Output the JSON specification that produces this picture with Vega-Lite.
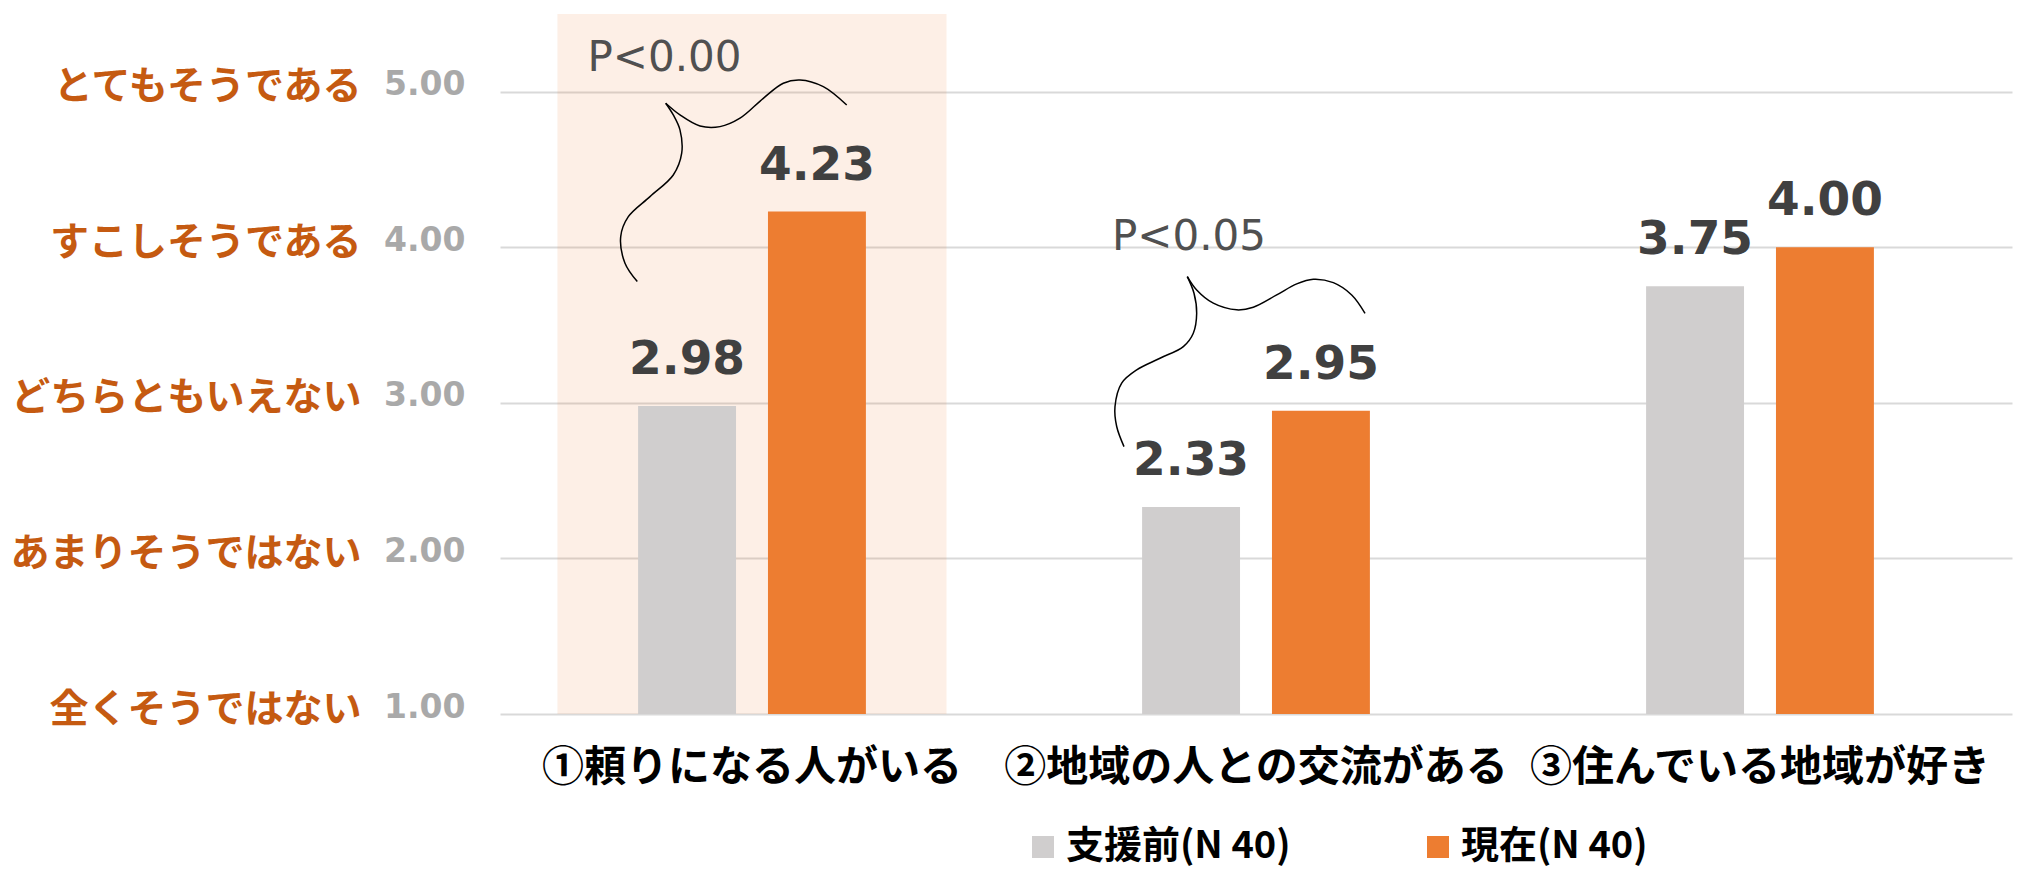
{
  "$schema": "https://vega.github.io/schema/vega-lite/v6.json",
  "width": 1512,
  "height": 700,
  "autosize": {"type": "none"},
  "padding": {"left": 500, "top": 14, "right": 12, "bottom": 158},
  "background": "white",
  "config": {"view": {"stroke": null}},
  "datasets": {
    "bars": [
      {"item": "①頼りになる人がいる", "period": "支援前(N 40)", "value": 2.98},
      {"item": "①頼りになる人がいる", "period": "現在(N 40)", "value": 4.23},
      {"item": "②地域の人との交流がある", "period": "支援前(N 40)", "value": 2.33},
      {"item": "②地域の人との交流がある", "period": "現在(N 40)", "value": 2.95},
      {"item": "③住んでいる地域が好き", "period": "支援前(N 40)", "value": 3.75},
      {"item": "③住んでいる地域が好き", "period": "現在(N 40)", "value": 4.00}
    ],
    "brace": [
      {"arm": "a1", "i": 1, "bx": 0.2724, "by": 3.780},
      {"arm": "a1", "i": 2, "bx": 0.2480, "by": 3.898},
      {"arm": "a1", "i": 3, "bx": 0.2395, "by": 4.069},
      {"arm": "a1", "i": 4, "bx": 0.2546, "by": 4.197},
      {"arm": "a1", "i": 5, "bx": 0.2976, "by": 4.326},
      {"arm": "a1", "i": 6, "bx": 0.3438, "by": 4.465},
      {"arm": "a1", "i": 7, "bx": 0.3605, "by": 4.605},
      {"arm": "a1", "i": 8, "bx": 0.3571, "by": 4.755},
      {"arm": "a1", "i": 9, "bx": 0.3438, "by": 4.851},
      {"arm": "a1", "i": 10, "bx": 0.3288, "by": 4.926},
      {"arm": "a2", "i": 1, "bx": 0.3288, "by": 4.926},
      {"arm": "a2", "i": 2, "bx": 0.3571, "by": 4.851},
      {"arm": "a2", "i": 3, "bx": 0.3968, "by": 4.780},
      {"arm": "a2", "i": 4, "bx": 0.4365, "by": 4.776},
      {"arm": "a2", "i": 5, "bx": 0.4762, "by": 4.830},
      {"arm": "a2", "i": 6, "bx": 0.5224, "by": 4.958},
      {"arm": "a2", "i": 7, "bx": 0.5621, "by": 5.055},
      {"arm": "a2", "i": 8, "bx": 0.5952, "by": 5.076},
      {"arm": "a2", "i": 9, "bx": 0.6415, "by": 5.033},
      {"arm": "a2", "i": 10, "bx": 0.6879, "by": 4.915},
      {"arm": "b1", "i": 1, "bx": 1.2381, "by": 2.719},
      {"arm": "b1", "i": 2, "bx": 1.2236, "by": 2.848},
      {"arm": "b1", "i": 3, "bx": 1.2202, "by": 2.976},
      {"arm": "b1", "i": 4, "bx": 1.2335, "by": 3.127},
      {"arm": "b1", "i": 5, "bx": 1.2633, "by": 3.212},
      {"arm": "b1", "i": 6, "bx": 1.3095, "by": 3.287},
      {"arm": "b1", "i": 7, "bx": 1.3558, "by": 3.362},
      {"arm": "b1", "i": 8, "bx": 1.3756, "by": 3.448},
      {"arm": "b1", "i": 9, "bx": 1.3823, "by": 3.576},
      {"arm": "b1", "i": 10, "bx": 1.3770, "by": 3.705},
      {"arm": "b1", "i": 11, "bx": 1.3637, "by": 3.812},
      {"arm": "b2", "i": 1, "bx": 1.3637, "by": 3.812},
      {"arm": "b2", "i": 2, "bx": 1.3823, "by": 3.726},
      {"arm": "b2", "i": 3, "bx": 1.4153, "by": 3.641},
      {"arm": "b2", "i": 4, "bx": 1.4617, "by": 3.598},
      {"arm": "b2", "i": 5, "bx": 1.4946, "by": 3.615},
      {"arm": "b2", "i": 6, "bx": 1.5411, "by": 3.694},
      {"arm": "b2", "i": 7, "bx": 1.5808, "by": 3.765},
      {"arm": "b2", "i": 8, "bx": 1.6137, "by": 3.795},
      {"arm": "b2", "i": 9, "bx": 1.6534, "by": 3.773},
      {"arm": "b2", "i": 10, "bx": 1.6899, "by": 3.694},
      {"arm": "b2", "i": 11, "bx": 1.7163, "by": 3.576}
    ],
    "ptext": [
      {"label": "P<0.00", "bx": 0.3264, "by": 5.134},
      {"label": "P<0.05", "bx": 1.3671, "by": 3.983}
    ]
  },
  "layer": [
    {
      "data": {"values": [{}]},
      "mark": {"type": "bar", "color": "#ED7D31", "opacity": 0.12, "width": {"band": 1.708}},
      "encoding": {
        "x": {"datum": "①頼りになる人がいる", "type": "nominal", "axis": null,
              "scale": {"domain": ["①頼りになる人がいる", "②地域の人との交流がある", "③住んでいる地域が好き"], "paddingInner": 0.548, "paddingOuter": 0.274}},
        "y": {"datum": 1, "type": "quantitative", "axis": null,
              "scale": {"domain": [1, 5.5], "nice": false, "zero": false}},
        "y2": {"datum": 5.5}
      }
    },
    {
      "data": {"name": "bars"},
      "mark": {"type": "bar"},
      "encoding": {
        "x": {"field": "item", "type": "nominal",
              "scale": {"domain": ["①頼りになる人がいる", "②地域の人との交流がある", "③住んでいる地域が好き"], "paddingInner": 0.548, "paddingOuter": 0.274},
              "axis": {"title": null, "orient": "bottom", "domain": false, "ticks": false, "grid": false,
                       "labelFont": "Noto Sans CJK JP", "labelFontWeight": "bold", "labelFontSize": 42,
                       "labelColor": "#000000", "labelPadding": 33, "labelAngle": 0, "labelLimit": 0,
                       "labelOverlap": false, "labelBound": false}},
        "xOffset": {"field": "period", "type": "nominal",
                    "scale": {"domain": ["支援前(N 40)", "現在(N 40)"], "paddingInner": 0.246, "paddingOuter": 0}},
        "y": {"field": "value", "type": "quantitative",
              "scale": {"domain": [1, 5.5], "nice": false, "zero": false},
              "axis": {"title": null, "orient": "left", "values": [1, 2, 3, 4, 5], "format": ".2f",
                       "domain": false, "ticks": false, "grid": true, "gridColor": "#D9D9D9", "gridWidth": 2,
                       "labelFont": "DejaVu Sans", "labelFontWeight": "bold", "labelFontSize": 33, "labelColor": "#A9A9A9",
                       "labelPadding": 35, "labelOffset": -7}},
        "y2": {"datum": 1},
        "color": {"field": "period", "type": "nominal",
                  "scale": {"domain": ["支援前(N 40)", "現在(N 40)"], "range": ["#D0CECE", "#ED7D31"]},
                  "legend": {"title": null, "orient": "none", "legendX": 524, "legendY": 814,
                             "direction": "horizontal", "symbolType": "square", "symbolSize": 484,
                             "symbolStrokeWidth": 0, "labelFont": "Noto Sans CJK JP", "labelFontWeight": "bold",
                             "labelFontSize": 38, "labelColor": "#000000", "labelOffset": 4,
                             "columnPadding": 128, "labelLimit": 0}}
      }
    },
    {
      "data": {"name": "bars"},
      "mark": {"type": "text", "font": "DejaVu Sans", "fontWeight": "bold", "fontSize": 47,
               "color": "#404040", "baseline": "alphabetic", "align": "center", "dy": -32},
      "encoding": {
        "x": {"field": "item", "type": "nominal", "axis": null,
              "scale": {"domain": ["①頼りになる人がいる", "②地域の人との交流がある", "③住んでいる地域が好き"], "paddingInner": 0.548, "paddingOuter": 0.274}},
        "xOffset": {"field": "period", "type": "nominal",
                    "scale": {"domain": ["支援前(N 40)", "現在(N 40)"], "paddingInner": 0.246, "paddingOuter": 0}},
        "y": {"field": "value", "type": "quantitative", "axis": null,
              "scale": {"domain": [1, 5.5], "nice": false, "zero": false}},
        "text": {"field": "value", "type": "quantitative", "format": ".2f"}
      }
    },
    {
      "data": {"name": "brace"},
      "mark": {"type": "line", "color": "#000000", "strokeWidth": 1.5, "interpolate": "catmull-rom"},
      "encoding": {
        "x": {"field": "bx", "type": "quantitative", "axis": null,
              "scale": {"domain": [0, 3], "nice": false, "zero": false}},
        "y": {"field": "by", "type": "quantitative",
              "scale": {"domain": [1, 5.5], "nice": false, "zero": false},
              "axis": {"title": null, "orient": "left", "values": [1, 2, 3, 4, 5],
                       "labelExpr": "datum.value == 5 ? 'とてもそうである' : datum.value == 4 ? 'すこしそうである' : datum.value == 3 ? 'どちらともいえない' : datum.value == 2 ? 'あまりそうではない' : '全くそうではない'",
                       "domain": false, "ticks": false, "grid": false,
                       "labelFont": "Noto Sans CJK JP", "labelFontWeight": "bold", "labelFontSize": 39,
                       "labelColor": "#C55A11", "labelPadding": 139, "labelOffset": -5, "labelLimit": 0}},
        "detail": {"field": "arm", "type": "nominal"},
        "order": {"field": "i", "type": "quantitative"}
      }
    },
    {
      "data": {"name": "ptext"},
      "mark": {"type": "text", "font": "DejaVu Sans", "fontSize": 42, "color": "#505050",
               "baseline": "alphabetic", "align": "center"},
      "encoding": {
        "x": {"field": "bx", "type": "quantitative", "axis": null,
              "scale": {"domain": [0, 3], "nice": false, "zero": false}},
        "y": {"field": "by", "type": "quantitative", "axis": null,
              "scale": {"domain": [1, 5.5], "nice": false, "zero": false}},
        "text": {"field": "label", "type": "nominal"}
      }
    }
  ],
  "resolve": {"scale": {"x": "independent"}, "axis": {"y": "independent"}}
}
